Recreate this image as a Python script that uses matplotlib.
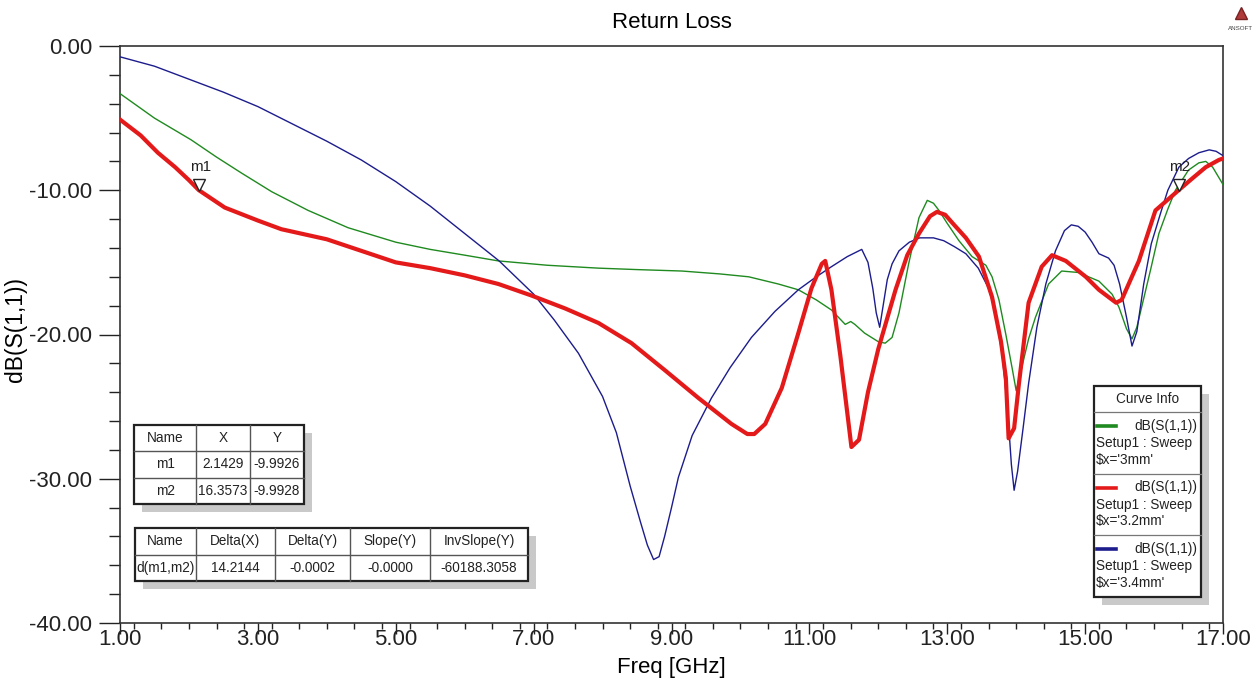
import matplotlib
matplotlib.use("Agg")
import matplotlib.pyplot as plt
from matplotlib import font_manager
from matplotlib.patches import Rectangle
from matplotlib.ticker import MultipleLocator, FormatStrFormatter
from matplotlib.transforms import offset_copy

# ---------------------------------------------------------------- data
freq_3mm = [1.0, 1.5, 2.03, 2.4, 2.76, 3.2, 3.73, 4.31, 5.0, 5.5, 6.0, 6.49,
            7.2, 7.94, 8.5, 9.15, 9.7, 10.12, 10.55, 10.84, 11.1, 11.32,
            11.52, 11.6, 11.66, 11.8, 12.0, 12.1, 12.2, 12.3, 12.44, 12.59,
            12.71, 12.8, 12.88, 13.0, 13.17, 13.36, 13.56, 13.65, 13.75,
            13.85, 13.94, 14.0, 14.08, 14.18, 14.28, 14.47, 14.66, 14.9,
            15.2, 15.39, 15.49, 15.6, 15.68, 15.75, 15.82, 15.95, 16.07,
            16.2, 16.31, 16.5, 16.65, 16.75, 16.85, 16.9, 17.0]
s11_3mm = [-3.3, -5.0, -6.5, -7.7, -8.8, -10.1, -11.4, -12.6, -13.6, -14.1,
           -14.5, -14.9, -15.2, -15.4, -15.5, -15.6, -15.8, -16.0, -16.5,
           -16.9, -17.6, -18.3, -19.3, -19.1, -19.3, -19.9, -20.5, -20.6,
           -20.2, -18.5, -15.1, -11.9, -10.7, -10.9, -11.4, -12.3, -13.5,
           -14.6, -15.2, -16.0, -17.6, -20.0, -22.3, -23.9, -22.3, -20.3,
           -18.8, -16.5, -15.6, -15.7, -16.3, -17.2, -18.1, -19.6, -20.3,
           -19.5, -18.1, -15.5, -13.0, -11.3, -10.0, -8.6, -8.1, -8.0, -8.4,
           -8.8, -9.6]

freq_3p2mm = [1.0, 1.3, 1.55, 1.8, 2.0, 2.1429, 2.52, 3.0, 3.34, 4.0, 4.5,
              5.0, 5.5, 6.0, 6.49, 6.97, 7.46, 7.94, 8.42, 8.91, 9.39, 9.87,
              10.1, 10.2, 10.36, 10.6, 10.84, 11.03, 11.18, 11.23, 11.32,
              11.45, 11.61, 11.72, 11.85, 12.0, 12.25, 12.42, 12.59, 12.75,
              12.85, 12.97, 13.1, 13.27, 13.46, 13.65, 13.78, 13.85, 13.89,
              13.97, 14.04, 14.18, 14.37, 14.52, 14.72, 15.01, 15.2, 15.45,
              15.53, 15.65, 15.78, 16.02, 16.3573, 16.55, 16.75, 16.94, 17.0]
s11_3p2mm = [-5.1, -6.2, -7.4, -8.4, -9.3, -9.9926, -11.2, -12.1, -12.7,
             -13.4, -14.2, -15.0, -15.4, -15.9, -16.5, -17.3, -18.2, -19.2,
             -20.6, -22.5, -24.4, -26.2, -26.9, -26.9, -26.2, -23.7, -19.9,
             -16.8, -15.1, -14.9, -16.9, -21.5, -27.8, -27.3, -24.0, -21.0,
             -16.9, -14.5, -13.0, -11.8, -11.5, -11.7, -12.4, -13.3, -14.6,
             -17.4, -20.5, -23.0, -27.2, -26.5, -23.4, -17.8, -15.3, -14.5,
             -14.9, -16.0, -16.9, -17.8, -17.6, -16.3, -14.9, -11.4, -9.9928,
             -9.2, -8.4, -7.9, -7.8]

freq_3p4mm = [1.0, 1.5, 2.0, 2.5, 3.0, 3.5, 4.0, 4.5, 5.0, 5.5, 6.0, 6.5, 7.0,
              7.3, 7.65, 8.0, 8.2, 8.4, 8.55, 8.65, 8.74, 8.82, 8.9, 9.0, 9.1,
              9.3, 9.58, 9.85, 10.16, 10.5, 10.84, 11.1, 11.32, 11.55, 11.76,
              11.85, 11.92, 11.97, 12.02, 12.07, 12.13, 12.2, 12.3, 12.45,
              12.6, 12.8, 12.95, 13.1, 13.27, 13.45, 13.6, 13.7, 13.8, 13.88,
              13.93, 13.97, 14.02, 14.1, 14.18, 14.3, 14.43, 14.57, 14.7,
              14.8, 14.9, 15.0, 15.1, 15.2, 15.34, 15.42, 15.5, 15.6, 15.68,
              15.75, 15.85, 15.96, 16.1, 16.2, 16.36, 16.5, 16.65, 16.8, 16.9,
              17.0]
s11_3p4mm = [-0.75, -1.4, -2.3, -3.2, -4.2, -5.4, -6.6, -7.9, -9.4, -11.1,
             -13.0, -14.9, -17.2, -19.0, -21.3, -24.3, -26.8, -30.5, -33.0,
             -34.6, -35.6, -35.4, -34.0, -32.0, -29.9, -27.0, -24.4, -22.3,
             -20.2, -18.4, -16.9, -16.0, -15.3, -14.6, -14.1, -15.0, -16.8,
             -18.5, -19.5, -18.0, -16.2, -15.1, -14.2, -13.6, -13.3, -13.3,
             -13.5, -13.9, -14.4, -15.4, -16.8, -18.5, -21.5, -25.5, -29.0,
             -30.8, -29.5, -26.5, -23.4, -19.5, -16.5, -14.2, -12.8, -12.4,
             -12.5, -12.9, -13.6, -14.4, -14.7, -15.2, -16.5, -18.8, -20.8,
             -19.8, -16.5, -13.7, -11.5, -10.0, -8.4, -7.8, -7.4, -7.2, -7.3,
             -7.6]

curve_names = ["$x='3mm'", "$x='3.2mm'", "$x='3.4mm'"]
curve_colors = ["#1f8a1f", "#e41a1a", "#1c1c8c"]
curve_widths = [1.0, 3.0, 1.0]

marker_names = ["m1", "m2"]
marker_x = [2.1429, 16.3573]
marker_y = [-9.9926, -9.9928]

marker_headers = ["Name", "X", "Y"]
delta_headers = ["Name", "Delta(X)", "Delta(Y)", "Slope(Y)", "InvSlope(Y)"]
delta_values = ["d(m1,m2)", "14.2144", "-0.0002", "-0.0000", "-60188.3058"]

x_ticks = [1, 3, 5, 7, 9, 11, 13, 15, 17]
y_ticks = [0, -10, -20, -30, -40]

# ---------------------------------------------------------------- fonts
available = {f.name for f in font_manager.fontManager.ttflist}
MAIN = "Liberation Sans" if "Liberation Sans" in available else "DejaVu Sans"
if "Liberation Sans Narrow" in available:
    NARROW, NSIZE = "Liberation Sans Narrow", 12
else:
    NARROW, NSIZE = MAIN, 9.8
plt.rcParams["font.family"] = [MAIN, "DejaVu Sans"]

W, H = 1259, 686
fig = plt.figure(figsize=(W / 100, H / 100), dpi=100, facecolor="white")

L, R, T, B = 120, 1223, 46, 623
ax = fig.add_axes([L / W, 1 - B / H, (R - L) / W, (B - T) / H])

series = [(freq_3mm, s11_3mm), (freq_3p2mm, s11_3p2mm), (freq_3p4mm, s11_3p4mm)]
order = [0, 2, 1]
for i in order:
    f, s = series[i]
    ax.plot(f, s, color=curve_colors[i], lw=curve_widths[i],
            solid_joinstyle="round", zorder=3 + (i == 1))

ax.set_xlim(1, 17)
ax.set_ylim(-40, 0)
ax.set_xticks(x_ticks)
ax.set_yticks(y_ticks)
ax.xaxis.set_minor_locator(MultipleLocator(0.4))
ax.yaxis.set_minor_locator(MultipleLocator(2))
ax.xaxis.set_major_formatter(FormatStrFormatter("%.2f"))
ax.yaxis.set_major_formatter(FormatStrFormatter("%.2f"))
ax.tick_params(axis="both", which="both", direction="out", colors="#222222",
               labelsize=16, top=False, right=False)
ax.tick_params(axis="y", which="major", length=15, width=1.0, pad=5)
ax.tick_params(axis="y", which="minor", length=8, width=1.0)
ax.tick_params(axis="x", which="major", length=8, width=1.0, pad=-3.5)
ax.tick_params(axis="x", which="minor", length=4.5, width=1.0)
for sp in ax.spines.values():
    sp.set_linewidth(1.2)
    sp.set_color("#333333")

ax.set_xlabel("Freq [GHz]", fontsize=16)
ax.xaxis.set_label_coords(0.5, -(657 - B) / (B - T))
ax.set_ylabel("dB(S(1,1))", fontsize=16.5)
ax.yaxis.set_label_coords(-(L - 27) / (R - L), (B - 330) / (B - T))
ax.set_title("Return Loss", fontsize=16, pad=13)

# marker triangles and labels on the 3.2 mm curve
tri_tf = offset_copy(ax.transData, fig=fig, x=0, y=4.0, units="points")
txt_tf = offset_copy(ax.transData, fig=fig, x=1, y=17, units="points")
for name, mx, my in zip(marker_names, marker_x, marker_y):
    ax.plot([mx], [my], marker="v", ms=8, mfc="white", mec="#222222",
            mew=1.0, transform=tri_tf, zorder=6, clip_on=False)
    ax.text(mx, my, name, transform=txt_tf, ha="center", va="center",
            fontsize=11, color="#222222", zorder=6)

# ---------------------------------------------------------------- overlay
ov = fig.add_axes([0, 0, 1, 1], zorder=5)
ov.set_xlim(0, W)
ov.set_ylim(H, 0)
ov.axis("off")


def draw_table(col_edges, top, row_h, rows):
    x0, x1 = col_edges[0], col_edges[-1]
    h = row_h * len(rows)
    ov.add_patch(Rectangle((x0 + 8, top + 8), x1 - x0, h, fc="#c9c9c9",
                           ec="none", zorder=1))
    ov.add_patch(Rectangle((x0, top), x1 - x0, h, fc="white", ec="#222222",
                           lw=1.6, zorder=2))
    for r in range(1, len(rows)):
        ov.plot([x0, x1], [top + r * row_h] * 2, color="#555555", lw=1.0,
                zorder=3)
    for c in col_edges[1:-1]:
        ov.plot([c, c], [top, top + h], color="#555555", lw=1.0, zorder=3)
    for r, row in enumerate(rows):
        for c, val in enumerate(row):
            ov.text((col_edges[c] + col_edges[c + 1]) / 2,
                    top + (r + 0.5) * row_h, val, ha="center", va="center",
                    fontsize=NSIZE, family=NARROW, color="#222222", zorder=4)


marker_rows = [marker_headers] + [
    [n, f"{x:.4f}", f"{y:.4f}"] for n, x, y in zip(marker_names, marker_x, marker_y)]
draw_table([134, 196, 250, 304], 425, 26.3, marker_rows)
draw_table([135, 196, 275, 350, 430, 528], 528, 26.5,
           [delta_headers, delta_values])

# curve info box
lx0, lx1, ltop, lhead, lsec = 1094, 1201, 386, 412, 61.5
lbot = lhead + 3 * lsec
ov.add_patch(Rectangle((lx0 + 8, ltop + 8), lx1 - lx0, lbot - ltop,
                       fc="#c9c9c9", ec="none", zorder=1))
ov.add_patch(Rectangle((lx0, ltop), lx1 - lx0, lbot - ltop, fc="white",
                       ec="#222222", lw=1.6, zorder=2))
ov.text((lx0 + lx1) / 2, (ltop + lhead) / 2, "Curve Info", ha="center",
        va="center", fontsize=NSIZE, family=NARROW, color="#222222", zorder=4)
for k in range(3):
    st = lhead + k * lsec
    ov.plot([lx0, lx1], [st, st], color="#777777", lw=0.9, zorder=3)
    ov.plot([lx0 + 3, lx0 + 22], [st + 14, st + 14], color=curve_colors[k],
            lw=2.6, zorder=4)
    ov.text(lx1 - 4, st + 14, "dB(S(1,1))", ha="right", va="center",
            fontsize=NSIZE, family=NARROW, color="#222222", zorder=4)
    ov.text(lx0 + 2, st + 31, "Setup1 : Sweep", ha="left", va="center",
            fontsize=NSIZE, family=NARROW, color="#222222", zorder=4)
    ov.text(lx0 + 2, st + 48, curve_names[k].replace("$", r"\$"), ha="left",
            va="center", fontsize=NSIZE, family=NARROW, color="#222222",
            zorder=4)

# vendor badge
ov.plot([1241], [13], marker="^", ms=9, color="#b03a3a", mec="#7a2020",
        zorder=4)
ov.text(1241, 29, "ANSOFT", ha="center", va="center", fontsize=4.5,
        color="#444444", zorder=4)

fig.savefig("out.png", dpi=100, facecolor="white")
